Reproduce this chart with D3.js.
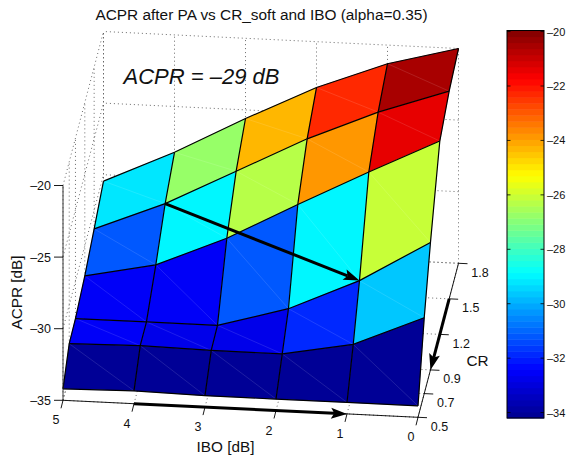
<!DOCTYPE html>
<html><head><meta charset="utf-8">
<script src="https://cdn.jsdelivr.net/npm/d3@7"></script>
<style>html,body{margin:0;padding:0;background:#fff}svg{display:block}text{font-family:"Liberation Sans",Arial,sans-serif;fill:#111}</style>
</head><body><svg id="c" width="568" height="461"></svg>
<script>
const iboValues=[5,4,3,2,1,0];
const crValues=[0.5,0.7,0.9,1.2,1.5,1.8];
const acprCr05=[-34.2,-34.1,-34.2,-34.2,-34.2,-34.2];
const acprCr07=[-32.7,-32.6,-32.7,-32.7,-31.8,-29.7];
const acprCr09=[-32.6,-32.6,-32.6,-31.2,-29.0,-26.1];
const acprCr12=[-32.1,-31.1,-29.0,-26.4,-23.9,-21.5];
const acprCr15=[-31.3,-29.3,-26.8,-24.3,-22.2,-20.5];
const acprCr18=[-30.45,-28.2,-25.6,-23.2,-21.3,-20.0];
const acprRows=[acprCr05,acprCr07,acprCr09,acprCr12,acprCr15,acprCr18];
const zTicks=[-35,-30,-25,-20];
const cbTicks=[-34,-32,-30,-28,-26,-24,-22,-20];
const colorLimits=[-34.2,-19.96];
const titleText="ACPR after PA vs CR_soft and IBO (alpha=0.35)";
const noteText="ACPR = –29 dB";

const svg=d3.select("#c");
const fmt=v=>String(v).replace("-","–");

// oblique projection made of linear scales, one per data axis
const xIbo=d3.scaleLinear([5,0],[63,418]);
const xCr=d3.scaleLinear([0.5,1.8],[0,40.5]);
const yIbo=d3.scaleLinear([5,0],[0,17]);
const yCr=d3.scaleLinear([0.5,1.8],[0,-154]);
const yZ=d3.scaleLinear([-35,-20],[400.3,185.5]);
const P=(i,c,z)=>[xIbo(i)+xCr(c),yIbo(i)+yCr(c)+yZ(z)];
const line=d3.line();

// jet colormap, 64 levels
const jet=d3.scaleLinear()
  .domain([0,0.125,0.375,0.625,0.875,1])
  .range(["#00008f","#0000ff","#00ffff","#ffff00","#ff0000","#800000"])
  .interpolate(d3.interpolateRgb).clamp(true);
const levels=d3.range(64);
const levelColor=k=>jet((k+0.5)/64);
const cq=d3.scaleQuantize().domain(colorLimits).range(levels);
const color=v=>levelColor(cq(v));

// grid
const gridG=svg.append("g").attr("fill","none").attr("stroke","#444").attr("stroke-width",0.8).attr("stroke-dasharray","1 3");
const seg=(a,b)=>gridG.append("path").attr("d",line([a,b]));
const zMin=-35,zMax=-20,crMin=0.5,crMax=1.8,iMin=0,iMax=5;
iboValues.forEach(i=>{seg(P(i,crMin,zMin),P(i,crMax,zMin));seg(P(i,crMax,zMin),P(i,crMax,zMax));});
crValues.forEach(c=>{seg(P(iMin,c,zMin),P(iMax,c,zMin));seg(P(iMax,c,zMin),P(iMax,c,zMax));});
zTicks.forEach(z=>{seg(P(iMin,crMax,z),P(iMax,crMax,z));seg(P(iMax,crMin,z),P(iMax,crMax,z));});

// surface, painted back to front
const surf=svg.append("g");
for(let r=crValues.length-2;r>=0;r--){
  for(let k=0;k<iboValues.length-1;k++){
    const a=P(iboValues[k],crValues[r],acprRows[r][k]);
    const b=P(iboValues[k+1],crValues[r],acprRows[r][k+1]);
    const c=P(iboValues[k+1],crValues[r+1],acprRows[r+1][k+1]);
    const d=P(iboValues[k],crValues[r+1],acprRows[r+1][k]);
    const fill=color(acprRows[r][k+1]);
    surf.append("path").attr("d",line([a,b,c,d])+"Z").attr("fill",fill).attr("stroke",fill).attr("stroke-width",0.3);
    surf.append("path").attr("d",line([d,b])).attr("stroke","#fff").attr("stroke-opacity",0.2).attr("stroke-width",0.6).attr("fill","none");
  }
}
const edges=svg.append("g").attr("fill","none").attr("stroke","#000").attr("stroke-width",1.2);
crValues.forEach((c,r)=>edges.append("path").attr("d",line(iboValues.map((i,k)=>P(i,c,acprRows[r][k])))));
iboValues.forEach((i,k)=>edges.append("path").attr("d",line(crValues.map((c,r)=>P(i,c,acprRows[r][k])))));

// axes
const ax=svg.append("g").attr("stroke","#000").attr("stroke-width",0.9).attr("fill","none");
ax.append("path").attr("d",line([P(iMax,crMin,zMin),P(iMin,crMin,zMin),P(iMin,crMax,zMin)]));
ax.append("path").attr("d",line([P(iMax,crMin,zMin),P(iMax,crMin,zMax)])).attr("stroke","#222");
const label=(x,y,t,size,anchor)=>svg.append("text").attr("x",x).attr("y",y).attr("font-size",size).attr("text-anchor",anchor||"middle").text(t);
zTicks.forEach(z=>{const p=P(iMax,crMin,z);
  ax.append("path").attr("d",line([p,[p[0]-9,p[1]]]));
  label(p[0]-12,p[1]+4.5,fmt(z),12.5,"end");});
iboValues.forEach(i=>{const p=P(i,crMin,zMin);
  ax.append("path").attr("d",line([p,[p[0]-2,p[1]+8]]));
  label(p[0]-7,p[1]+24,fmt(i),12.5);});
crValues.forEach(c=>{const p=P(iMin,c,zMin);
  ax.append("path").attr("d",line([p,[p[0]+9,p[1]+0.4]]));
  label(p[0]+21.5,p[1]+13.5,c.toFixed(1),12.5);});

// arrows
const arrow=(from,to,w)=>{
  const dx=to[0]-from[0],dy=to[1]-from[1],L=Math.hypot(dx,dy),u=[dx/L,dy/L],n=[-u[1],u[0]];
  const h=16,hw=5.5,base=[to[0]-u[0]*h,to[1]-u[1]*h];
  svg.append("path").attr("d",line([from,[to[0]-u[0]*h*0.8,to[1]-u[1]*h*0.8]])).attr("stroke","#000").attr("stroke-width",w).attr("fill","none");
  svg.append("path").attr("d",line([to,[base[0]+n[0]*hw,base[1]+n[1]*hw],[to[0]-u[0]*h*0.8,to[1]-u[1]*h*0.8],[base[0]-n[0]*hw,base[1]-n[1]*hw]])+"Z").attr("fill","#000");
};
arrow(P(4,1.5,acprCr15[1]),P(1,0.9,acprCr09[4]),3);
arrow(P(4,0.5,-35),P(1,0.5,-35),3);
arrow(P(0,1.5,-35),P(0,0.9,-35),3);

// text
label(261.5,20,titleText,15.4);
svg.append("text").attr("transform","translate(21.5,292.5) rotate(-90)").attr("text-anchor","middle").attr("font-size",15.3).text("ACPR [dB]");
label(225.5,452,"IBO [dB]",15.3);
label(477.5,366,"CR",15.3);
svg.append("text").attr("x",123.5).attr("y",84).attr("font-size",22).attr("font-style","italic").text(noteText);

// colorbar
const cbX=[507,544];
const cbY=d3.scaleLinear(colorLimits,[418,30.5]);
const cb=svg.append("g");
const bandEdges=d3.scaleLinear([0,64],colorLimits);
cb.selectAll("rect").data(levels).join("rect")
  .attr("x",cbX[0]).attr("width",cbX[1]-cbX[0])
  .attr("y",k=>cbY(bandEdges(k+1))).attr("height",k=>cbY(bandEdges(k))-cbY(bandEdges(k+1))+0.5)
  .attr("fill",levelColor);
cb.append("rect").attr("x",cbX[0]).attr("y",cbY.range()[1]).attr("width",cbX[1]-cbX[0]).attr("height",cbY.range()[0]-cbY.range()[1]).attr("fill","none").attr("stroke","#000").attr("stroke-width",1);
cbTicks.forEach(t=>{const y=cbY(t);
  cb.append("path").attr("d",line([[cbX[0],y],[cbX[0]+3.5,y]])).attr("stroke","#000").attr("stroke-width",0.8);
  cb.append("path").attr("d",line([[cbX[1]-3.5,y],[cbX[1],y]])).attr("stroke","#000").attr("stroke-width",0.8);
  label(547,y+4,fmt(t),11,"start");});
</script></body></html>
